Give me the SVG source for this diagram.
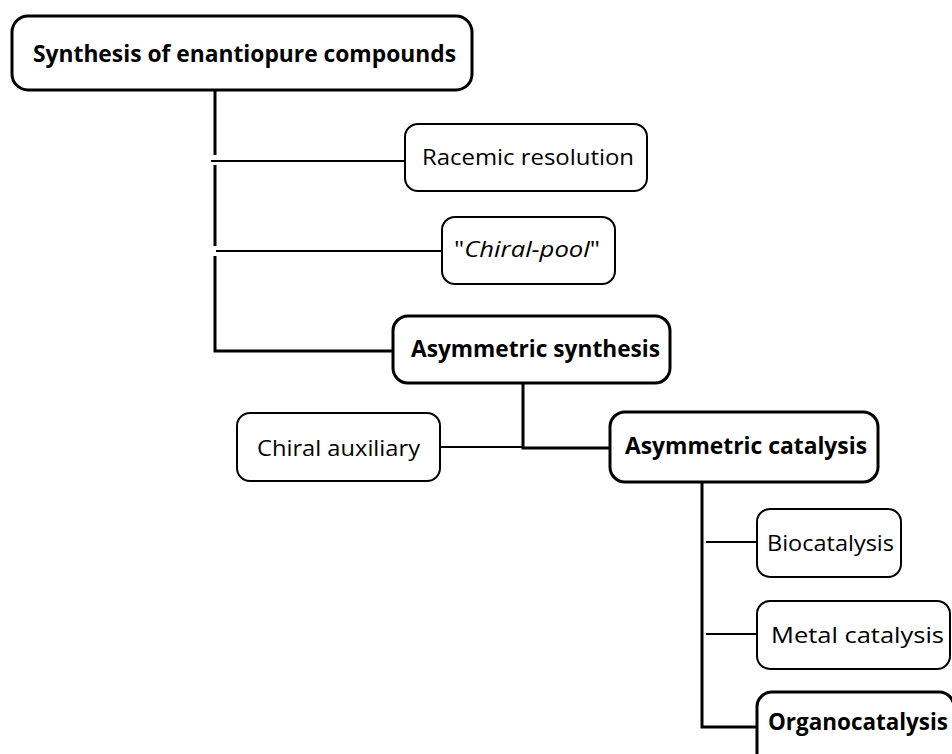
<svg xmlns="http://www.w3.org/2000/svg" width="952" height="754" viewBox="0 0 952 754">
<style>
  .thick{fill:#fff;stroke:#000;stroke-width:3}
  .thin{fill:#fff;stroke:#000;stroke-width:2}
  .t{font-family:"Open Sans","Liberation Sans",sans-serif;font-size:22.5px;fill:#000}
  .b{font-weight:bold;font-size:23px}
  .cb{fill:none;stroke:#000;stroke-width:3}
  .cn{fill:none;stroke:#000;stroke-width:2}
</style>
<rect width="952" height="754" fill="#fff"/>
<g id="connectors">
  <path class="cb" d="M215,90 V155 M215,165 V246 M215,256 V351 H393"/>
  <path class="cn" d="M211,161 H405 M216,251 H442"/>
  <path class="cb" d="M523,383 V448 H610"/>
  <path class="cn" d="M440,447 H523"/>
  <path class="cb" d="M702,482 V727 H757"/>
  <path class="cn" d="M706,542 H757 M706,634 H757"/>
</g>
<g id="n_synthesis">
  <rect class="thick" x="12" y="16" width="460" height="74" rx="16"/>
  <text class="t b" x="33" y="62" textLength="423" lengthAdjust="spacingAndGlyphs">Synthesis of enantiopure compounds</text>
</g>
<g id="n_racemic">
  <rect class="thin" x="405" y="124" width="242" height="67" rx="13"/>
  <text class="t" x="422" y="165" textLength="212" lengthAdjust="spacingAndGlyphs">Racemic resolution</text>
</g>
<g id="n_chiralpool">
  <rect class="thin" x="442" y="217" width="173" height="67" rx="13"/>
  <text class="t" x="454" y="257" textLength="146" lengthAdjust="spacingAndGlyphs">"<tspan font-style="italic">Chiral-pool</tspan>"</text>
</g>
<g id="n_asymsynth">
  <rect class="thick" x="393" y="316" width="277" height="67" rx="15"/>
  <text class="t b" x="411" y="357" textLength="249" lengthAdjust="spacingAndGlyphs">Asymmetric synthesis</text>
</g>
<g id="n_auxiliary">
  <rect class="thin" x="237" y="413" width="203" height="68" rx="13"/>
  <text class="t" x="257" y="456" textLength="163" lengthAdjust="spacingAndGlyphs">Chiral auxiliary</text>
</g>
<g id="n_asymcat">
  <rect class="thick" x="610" y="412" width="268" height="70" rx="15"/>
  <text class="t b" x="625" y="454" textLength="242" lengthAdjust="spacingAndGlyphs">Asymmetric catalysis</text>
</g>
<g id="n_bio">
  <rect class="thin" x="757" y="509" width="144" height="68" rx="13"/>
  <text class="t" x="767" y="551" textLength="127" lengthAdjust="spacingAndGlyphs">Biocatalysis</text>
</g>
<g id="n_metal">
  <rect class="thin" x="757" y="601" width="193" height="68" rx="13"/>
  <text class="t" x="771" y="643" textLength="173" lengthAdjust="spacingAndGlyphs">Metal catalysis</text>
</g>
<g id="n_organo">
  <rect class="thick" x="757" y="692" width="197" height="80" rx="15"/>
  <text class="t b" x="768" y="730" textLength="180" lengthAdjust="spacingAndGlyphs">Organocatalysis</text>
</g>
</svg>
